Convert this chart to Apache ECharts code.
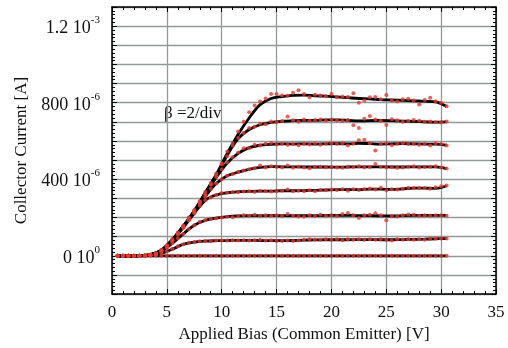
<!DOCTYPE html>
<html><head><meta charset="utf-8">
<script src="https://cdn.jsdelivr.net/npm/echarts@6/dist/echarts.min.js"></script>
<style>html,body{margin:0;padding:0;background:#fff}#c{width:508px;height:348px}</style>
</head><body><div id="c"></div>
<script>
// Applied bias (V) for the fitted curves and the measured points
const xLine = [0.5,1.5,2.5,3.5,4.5,5.5,6.5,7.5,8.5,9.5,10.5,11.5,12.5,13.5,14.5,15.5,16.5,17.5,18.5,19.5,20.5,21.5,22.5,23.5,24.5,25.5,26.5,27.5,28.5,29.5,30.5];
const xDot = [0.5,1,1.5,2,2.5,3,3.5,4,4.5,5,5.5,6,6.5,7,7.5,8,8.5,9,9.5,10,10.5,11,11.5,12,12.5,13,13.5,14,14.5,15,15.5,16,16.5,17,17.5,18,18.5,19,19.5,20,20.5,21,21.5,22,22.5,23,23.5,24,24.5,25,25.5,26,26.5,27,27.5,28,28.5,29,29.5,30,30.5];

// fitted curves, collector current in 1e-6 A
const L1 = [0,0,1,6,30,85,155,235,330,425,535,635,720,790,822,832,838,840,836,834,830,826,822,820,816,814,812,810,808,804,780];
const L2 = [0,0,1,6,29,84,155,234,328,420,525,612,660,685,697,703,706,708,708,710,710,708,705,706,708,706,704,702,700,698,700];
const L3 = [0,0,1,5,28,83,154,232,322,410,485,535,565,578,583,585,584,585,584,585,586,585,588,586,584,585,586,585,584,584,578];
const L4 = [0,0,1,5,27,82,152,228,310,378,418,437,452,462,466,465,465,464,464,464,463,464,465,465,465,464,464,465,465,465,456];
const L5 = [0,0,1,4,26,80,148,222,290,318,330,335,337,338,338,340,340,341,342,344,346,346,346,348,348,347,350,354,354,352,366];
const L6 = [0,0,1,4,24,66,115,160,185,197,205,209,210,210,211,210,210,210,210,211,211,212,210,210,209,208,210,211,211,211,211];
const L7 = [0,0,0,3,13,35,60,72,77,79,80,81,81,80,79,79,80,82,83,84,84,84,85,85,84,84,85,86,87,89,90];
const L8 = [0,0,0,0,0,0,0,0,0,0,0,0,0,0,0,0,0,0,0,0,0,0,0,0,0,0,0,0,0,0,0];

// measured points, 1e-6 A
const D1 = [0,0,0,0,1,2,5,13,32,50,88,118,158,198,240,282,335,372,430,482,545,590,650,700,750,785,806,822,845,845,838,836,852,865,845,828,842,838,834,846,828,832,830,850,800,812,828,830,818,840,812,806,818,820,812,790,814,826,808,800,782];
const D2 = [0,0,0,0,1,2,6,12,28,55,82,122,150,200,232,285,322,380,418,478,520,575,615,642,668,675,690,688,702,698,704,728,708,700,712,706,710,712,706,712,708,704,710,682,668,716,730,712,706,684,714,708,700,704,710,706,700,702,698,696,702];
const D3 = [0,0,0,0,1,2,5,11,27,52,80,118,152,192,236,278,318,372,412,452,488,515,540,562,562,580,576,586,590,582,586,580,584,578,586,582,588,580,586,588,584,588,576,585,604,606,588,550,586,590,578,586,588,584,586,580,586,576,588,584,576];
const D4 = [0,0,0,0,1,2,5,11,26,50,82,116,150,188,228,272,308,350,378,400,418,428,438,446,452,458,472,462,468,464,462,472,460,466,462,458,464,466,462,464,462,460,466,464,468,462,464,480,466,462,464,460,462,466,468,462,464,466,468,462,456];
const D5 = [0,0,0,0,1,2,4,10,25,48,80,112,146,186,222,262,290,305,318,328,330,334,332,336,338,334,340,338,336,338,340,346,338,340,338,342,338,344,342,346,344,348,340,348,344,348,352,346,356,342,348,346,350,356,354,356,354,350,358,364,368];
const D6 = [0,0,0,0,1,2,4,9,24,44,66,92,114,140,160,178,186,192,196,200,204,202,208,212,210,214,208,212,210,212,208,218,210,206,204,212,208,214,210,212,208,218,224,212,198,212,214,222,212,186,208,206,212,216,214,210,212,210,212,212,210];
const D7 = [0,0,0,0,0,1,3,6,13,24,36,50,60,68,72,76,78,78,80,80,80,82,80,82,80,82,84,80,82,78,78,80,78,80,84,86,84,84,86,84,86,82,86,84,86,84,86,84,86,84,80,86,84,86,84,86,84,90,90,90,90];
const D8 = [0,0,0,0,0,0,0,0,0,0,0,0,0,0,0,0,0,0,0,0,0,0,0,0,0,0,0,0,0,0,0,0,0,0,0,0,0,0,0,0,0,0,0,0,0,0,0,0,0,0,0,0,0,0,0,0,0,0,0,0,0];

// y tick labels (value in 1e-6 A -> mantissa, exponent)
const yTickVals = [0, 400, 800, 1200];
const yTickMant = ['0', '400', '800', '1.2'];
const yTickExp = ['0', '-6', '-6', '-3'];

const lines = [L1,L2,L3,L4,L5,L6,L7,L8];
const dots = [D1,D2,D3,D4,D5,D6,D7,D8];
const pair = (xs, ys) => xs.map((x, i) => [x, ys[i]]);

const FONT = '"Liberation Serif", "Times New Roman", serif';
const gridCol = '#939999';

const series = [];
lines.forEach((L) => series.push({
  type: 'line', data: pair(xLine, L), smooth: 0.35, showSymbol: false,
  lineStyle: { color: '#000', width: 2.8 }, z: 2, silent: true, animation: false
}));
dots.forEach((D) => series.push({
  type: 'scatter', data: pair(xDot, D), symbol: 'circle', symbolSize: 4,
  itemStyle: { color: '#e8372f' }, z: 3, silent: true, animation: false
}));

const axisCommon = {
  axisLine: { show: true, onZero: false, lineStyle: { color: '#000', width: 1.5 } },
  axisTick: { show: true, inside: true, length: 5, lineStyle: { color: '#000', width: 1 } },
  minorTick: { show: true, splitNumber: 5, length: 3, lineStyle: { color: '#000', width: 1 } }
};

const chart = echarts.init(document.getElementById('c'), null, { renderer: 'canvas' });
chart.setOption({
  animation: false,
  backgroundColor: '#fff',
  grid: { left: 112, right: 12, top: 7, bottom: 52, containLabel: false },
  xAxis: [
    Object.assign({}, axisCommon, {
      type: 'value', min: 0, max: 35, interval: 5, position: 'bottom',
      splitLine: { show: true, lineStyle: { color: gridCol, width: 1.3 } },
      axisLabel: { fontFamily: FONT, fontSize: 17, color: '#111', margin: 10 },
      name: 'Applied Bias (Common Emitter) [V]', nameLocation: 'middle', nameGap: 28,
      nameTextStyle: { fontFamily: FONT, fontSize: 17, color: '#111' }
    }),
    Object.assign({}, axisCommon, {
      type: 'value', min: 0, max: 35, interval: 5, position: 'top',
      splitLine: { show: false }, axisLabel: { show: false }
    })
  ],
  yAxis: [
    Object.assign({}, axisCommon, {
      type: 'value', min: -200, max: 1300, interval: 100, position: 'left',
      splitLine: { show: true, lineStyle: { color: gridCol, width: 1.3 } },
      axisLabel: {
        margin: 12, color: '#111',
        formatter: (v) => {
          const k = yTickVals.indexOf(v);
          if (k < 0) return '';
          return '{b|' + yTickMant[k] + ' 10}{s|' + yTickExp[k] + '}';
        },
        rich: {
          b: { fontFamily: FONT, fontSize: 18, color: '#111', lineHeight: 23, verticalAlign: 'bottom' },
          s: { fontFamily: FONT, fontSize: 11, color: '#111', lineHeight: 23, verticalAlign: 'top' }
        }
      },
      name: 'Collector Current [A]', nameLocation: 'middle', nameGap: 80,
      nameTextStyle: { fontFamily: FONT, fontSize: 17, color: '#111' }
    }),
    Object.assign({}, axisCommon, {
      type: 'value', min: -200, max: 1300, interval: 100, position: 'right',
      splitLine: { show: false }, axisLabel: { show: false }
    })
  ],
  graphic: [{
    type: 'text', left: 164, top: 105,
    style: { text: 'β =2/div', font: '17px "Liberation Serif"', fill: '#111' }
  }],
  series: series
});
</script></body></html>
